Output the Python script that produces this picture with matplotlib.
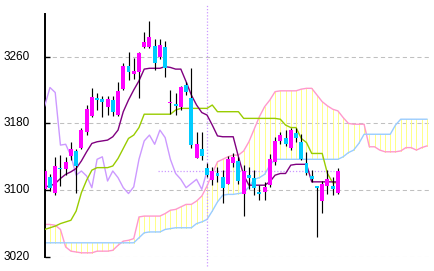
import matplotlib.pyplot as plt
import numpy as np

# daily candles (index 0 = first visible bar)
opens = [3102, 3116, 3097, 3127, 3125, 3141, 3147, 3150, 3170, 3189,
         3210, 3209, 3200, 3208, 3190, 3221, 3249, 3239, 3242, 3272,
         3271, 3273, 3259, 3271, 3204, 3203, 3200, 3226, 3210, 3139,
         3149, 3126, 3112, 3120, 3116, 3108, 3133, 3135, 3096, 3118,
         3115, 3098, 3098, 3106, 3134, 3159, 3163, 3150, 3168, 3158,
         3133, 3117, 3105, 3087, 3105, 3105, 3097]
closes = [3123, 3103, 3129, 3125, 3134, 3149, 3129, 3172, 3197, 3212,
          3208, 3206, 3209, 3194, 3219, 3249, 3241, 3243, 3264, 3278,
          3283, 3252, 3274, 3246, 3206, 3201, 3223, 3217, 3154, 3155,
          3141, 3118, 3123, 3117, 3103, 3137, 3140, 3111, 3123, 3115,
          3103, 3096, 3104, 3137, 3159, 3166, 3155, 3172, 3163, 3137,
          3120, 3113, 3103, 3108, 3113, 3101, 3123]
highs = [3125, 3119, 3140, 3142, 3140, 3158, 3149, 3174, 3202, 3222,
         3216, 3213, 3213, 3213, 3230, 3252, 3265, 3258, 3265, 3290,
         3303, 3281, 3281, 3279, 3220, 3216, 3225, 3230, 3246, 3170,
         3170, 3132, 3128, 3128, 3124, 3141, 3145, 3140, 3130, 3128,
         3124, 3106, 3110, 3143, 3164, 3170, 3172, 3174, 3175, 3167,
         3146, 3124, 3105, 3111, 3124, 3116, 3126]
lows = [3100, 3099, 3094, 3105, 3118, 3136, 3097, 3149, 3166, 3188,
        3196, 3188, 3190, 3189, 3189, 3220, 3232, 3233, 3210, 3270,
        3270, 3244, 3257, 3236, 3191, 3190, 3196, 3214, 3151, 3138,
        3136, 3116, 3106, 3110, 3085, 3107, 3128, 3108, 3069, 3102,
        3094, 3088, 3088, 3104, 3130, 3155, 3153, 3148, 3158, 3136,
        3118, 3110, 3044, 3073, 3095, 3094, 3095]

# ichimoku lines
tenkan = [3104, 3105, 3108, 3114, 3119, 3122, 3126, 3135, 3146, 3156,
          3158, 3159, 3160, 3164, 3172, 3194, 3208, 3220, 3231, 3245,
          3246, 3246, 3246, 3248, 3247, 3245, 3245, 3230, 3214, 3202,
          3193, 3190, 3178, 3165, 3164, 3164, 3164, 3140, 3118, 3106,
          3106, 3106, 3106, 3110, 3118, 3120, 3120, 3130, 3131, 3131,
          3131, 3110, 3110, 3110, 3110, 3110, 3110]
kijun = [3053, 3055, 3057, 3060, 3062, 3064, 3075, 3097, 3112, 3124,
         3127, 3127, 3127, 3129, 3138, 3150, 3162, 3166, 3175, 3191,
         3191, 3191, 3191, 3191, 3191, 3196, 3198, 3198, 3198, 3198,
         3198, 3198, 3202, 3194, 3194, 3194, 3194, 3194, 3186, 3186,
         3186, 3186, 3186, 3186, 3186, 3185, 3178, 3175, 3175, 3162,
         3157, 3144, 3144, 3144, 3120, 3109, 3109]
senkou_a = [3059, 3059, 3058, 3053, 3032, 3027, 3026, 3025, 3025, 3025,
            3027, 3027, 3027, 3028, 3034, 3039, 3040, 3042, 3068, 3069,
            3069, 3069, 3069, 3072, 3076, 3077, 3080, 3083, 3083, 3087,
            3093, 3105, 3120, 3134, 3137, 3140, 3142, 3142, 3147, 3158,
            3173, 3188, 3200, 3208, 3218, 3219, 3219, 3219, 3219, 3221,
            3222, 3222, 3214, 3206, 3201, 3197, 3195, 3187, 3180, 3179,
            3179, 3179, 3152, 3152, 3148, 3146, 3146, 3146, 3147, 3151,
            3151, 3148, 3151, 3153]
senkou_b = [3037, 3037, 3037, 3037, 3037, 3037, 3037, 3037, 3037, 3037,
            3037, 3037, 3037, 3037, 3037, 3037, 3037, 3037, 3043, 3049,
            3050, 3050, 3050, 3053, 3054, 3055, 3055, 3055, 3055, 3060,
            3062, 3065, 3075, 3086, 3094, 3095, 3095, 3096, 3097, 3104,
            3113, 3115, 3119, 3130, 3137, 3137, 3137, 3137, 3137, 3137,
            3137, 3137, 3137, 3137, 3137, 3137, 3137, 3140, 3145, 3148,
            3156, 3167, 3167, 3167, 3167, 3167, 3167, 3178, 3185, 3185,
            3185, 3185, 3185, 3185]
lag = 25
y_ticks = [3020, 3100, 3180, 3260]

opens = np.array(opens)
closes = np.array(closes)
x = np.arange(len(closes))
xc = np.arange(len(senkou_a))
sa = np.array(senkou_a)
sb = np.array(senkou_b)

fig = plt.figure(figsize=(4.34, 2.71), dpi=100)
ax_w = 429 - 45
ax = fig.add_axes([45 / 434, 14 / 271, ax_w / 434, 243 / 271])

# cloud hatching and spans
ax.vlines(xc, np.minimum(sa, sb), np.maximum(sa, sb), color='#ffff88', lw=0.72,
          antialiased=False, zorder=1)
ax.plot(xc, sa, color='#ff99cc', lw=1.0, zorder=2)
ax.plot(xc, sb, color='#99ccff', lw=1.0, zorder=2)

# lagging span = closes shifted back
chikou = closes[lag:]
ax.plot(np.arange(len(chikou)), chikou, color='#cc99ff', lw=1.0, zorder=3)
ax.plot(x, kijun, color='#99cc00', lw=1.0, zorder=3)
ax.plot(x, tenkan, color='#800080', lw=1.0, zorder=3)

# current price / lag markers
ax.axvline(len(closes) - 1 - lag, ymin=-0.037, ymax=1.037, clip_on=False,
           color='#cc99ff', linestyle=(0, (1, 1.5)), lw=0.9, zorder=2)
ax.hlines(closes[-1], 21.7, 55.2, color='#cc99ff', linestyle=(0, (1, 1.5)),
          lw=0.9, zorder=2)

# candles
up = closes >= opens
body_lo = np.minimum(opens, closes)
body_h = np.maximum(np.abs(closes - opens), 1.5)
ax.vlines(x, lows, highs, color='black', lw=0.85, zorder=4)
ax.bar(x, body_h, bottom=body_lo, width=0.76,
       color=np.where(up, '#ff00ff', '#00ccff'), linewidth=0, zorder=5)

ax.set_xlim(0.05, 73.4)
ax.set_ylim(3020, 3311)
ax.set_yticks(y_ticks)
ax.set_yticklabels([])
ax.set_xticks([])
ax.yaxis.grid(True, color='#c0c0c0', linestyle=(0, (4, 3)), lw=0.75)
ax.set_axisbelow(True)
ax.tick_params(axis='y', direction='in', length=3.6, width=1, color='black')
for v in y_ticks:
    ax.text(-15 / ax_w, v, str(v), transform=ax.get_yaxis_transform(),
            ha='right', va='center', fontsize=8.5,
            family=['Liberation Sans', 'DejaVu Sans'])
for side in ['top', 'right', 'bottom']:
    ax.spines[side].set_visible(False)
ax.spines['left'].set_linewidth(1.4)
ax.patch.set_alpha(0)

fig.savefig('out.png', dpi=100)
